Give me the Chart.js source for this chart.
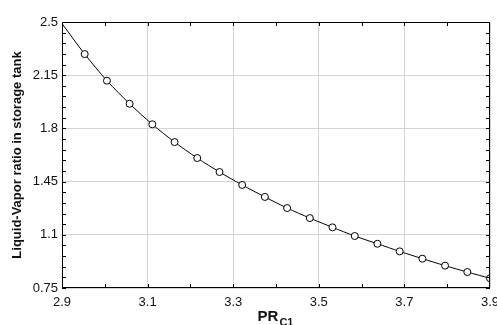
<!DOCTYPE html>
<html>
<head>
<meta charset="utf-8">
<script src="https://cdn.jsdelivr.net/npm/chart.js@4/dist/chart.umd.min.js"></script>
<style>
    html, body { margin: 0; padding: 0; background: #fff; }
    #wrap { width: 497px; height: 325px; position: relative; }
</style>
</head>
<body>
<div id="wrap"><canvas id="ratioChart"></canvas></div>
<script>
// pressure ratio of compressor C1
const prC1 = [2.9, 2.953, 3.005, 3.058, 3.111, 3.163, 3.216, 3.268, 3.321, 3.374,
              3.426, 3.479, 3.532, 3.584, 3.637, 3.689, 3.742, 3.795, 3.847, 3.9];
// liquid-vapor ratio in storage tank
const lvRatio = [2.49, 2.289, 2.114, 1.962, 1.827, 1.710, 1.605, 1.513, 1.428, 1.349,
                 1.276, 1.210, 1.149, 1.092, 1.041, 0.991, 0.943, 0.897, 0.855, 0.814];

const xTicks = [2.9, 3.1, 3.3, 3.5, 3.7, 3.9];
const yTicks = [0.75, 1.1, 1.45, 1.8, 2.15, 2.5];

const xTitle = 'PR';
const xTitleSub = 'C1';
const yTitle = 'Liquid-Vapor ratio in storage tank';

const font = "'Liberation Sans', Arial, sans-serif";

// frame, inward ticks (major + minor) and axis titles
const framePlugin = {
    id: 'frame',
    afterDraw(chart) {
        const { ctx, chartArea: a, scales: { x, y } } = chart;
        ctx.save();
        ctx.strokeStyle = '#000';
        ctx.lineWidth = 1;
        ctx.strokeRect(a.left + 0.5, a.top + 0.5, a.right - a.left - 1, a.bottom - a.top - 1);

        const len = 4;
        ctx.beginPath();
        let xs = [];
        for (let i = 0; i < xTicks.length - 1; i++) {
            xs.push(xTicks[i], (xTicks[i] + xTicks[i + 1]) / 2);
        }
        xs.forEach(v => {
            let px = Math.round(x.getPixelForValue(v)) + 0.5;
            ctx.moveTo(px, a.bottom); ctx.lineTo(px, a.bottom - len);
            ctx.moveTo(px, a.top); ctx.lineTo(px, a.top + len);
        });
        for (let i = 0; i < yTicks.length - 1; i++) {
            for (let k = 0; k < 5; k++) {
                let v = yTicks[i] + (yTicks[i + 1] - yTicks[i]) * k / 5;
                let py = Math.round(y.getPixelForValue(v)) + 0.5;
                ctx.moveTo(a.left, py); ctx.lineTo(a.left + len, py);
                ctx.moveTo(a.right, py); ctx.lineTo(a.right - len, py);
            }
        }
        ctx.stroke();

        // x title with subscript
        ctx.fillStyle = '#111';
        ctx.textBaseline = 'alphabetic';
        ctx.font = 'bold 15px ' + font;
        let w1 = ctx.measureText(xTitle).width;
        ctx.font = 'bold 11px ' + font;
        let w2 = ctx.measureText(xTitleSub).width;
        let cx = (a.left + a.right) / 2 - 1;
        let sx = cx - (w1 + w2) / 2;
        ctx.font = 'bold 15px ' + font;
        ctx.textAlign = 'left';
        ctx.fillText(xTitle, sx, 321);
        ctx.font = 'bold 11px ' + font;
        ctx.fillText(xTitleSub, sx + w1 + 1, 326);

        // y title
        ctx.translate(21, (a.top + a.bottom) / 2);
        ctx.rotate(-Math.PI / 2);
        ctx.textAlign = 'center';
        ctx.font = 'bold 13px ' + font;
        ctx.fillText(yTitle, 0, 0);
        ctx.restore();
    }
};

new Chart(document.getElementById('ratioChart'), {
    type: 'scatter',
    data: {
        datasets: [{
            data: prC1.map((v, i) => ({ x: v, y: lvRatio[i] })),
            showLine: true,
            borderColor: '#000',
            borderWidth: 1,
            backgroundColor: '#fff',
            pointBorderColor: '#000',
            pointBackgroundColor: '#fff',
            pointBorderWidth: 1,
            pointRadius: prC1.map((v, i) => i === 0 ? 0 : 3.5),
            tension: 0.3
        }]
    },
    options: {
        responsive: true,
        maintainAspectRatio: false,
        animation: false,
        layout: { padding: { top: 22, right: 7, left: 0, bottom: 0 } },
        scales: {
            x: {
                type: 'linear',
                min: 2.9,
                max: 3.9,
                afterBuildTicks: s => { s.ticks = xTicks.map(v => ({ value: v })); },
                afterFit: s => { s.height = 37; s.paddingLeft = 0; s.paddingRight = 0; },
                ticks: {
                    color: '#111',
                    font: { family: font, size: 13 },
                    padding: 7,
                    maxRotation: 0,
                    callback: v => String(v)
                },
                grid: { color: '#d4d4d4', drawTicks: false },
                border: { display: false }
            },
            y: {
                type: 'linear',
                min: 0.75,
                max: 2.5,
                afterBuildTicks: s => { s.ticks = yTicks.map(v => ({ value: v })); },
                afterFit: s => { s.width = 62; s.paddingTop = 0; s.paddingBottom = 0; },
                ticks: {
                    color: '#111',
                    font: { family: font, size: 13 },
                    padding: 4,
                    callback: v => String(v)
                },
                grid: { color: '#d4d4d4', drawTicks: false },
                border: { display: false }
            }
        },
        plugins: {
            legend: { display: false },
            tooltip: { enabled: false }
        }
    },
    plugins: [framePlugin]
});
</script>
</body>
</html>
